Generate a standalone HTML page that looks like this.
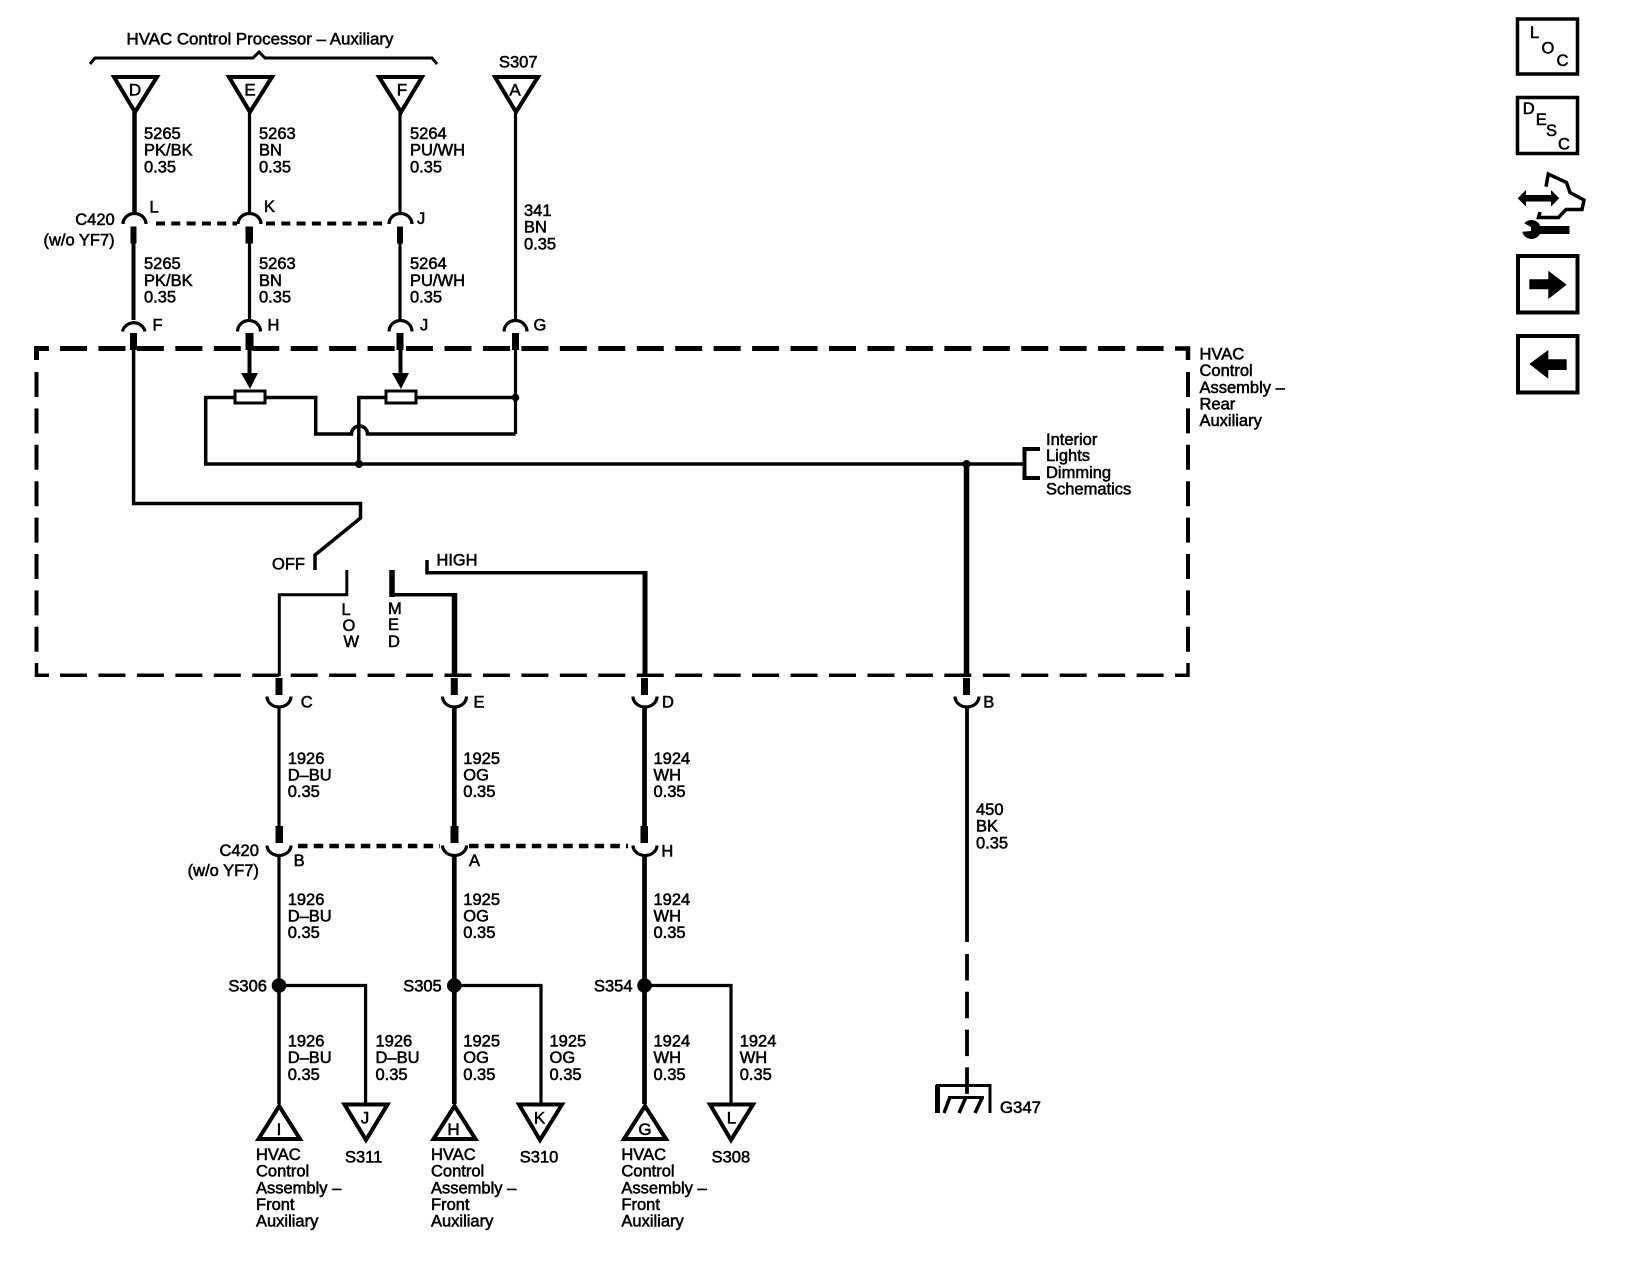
<!DOCTYPE html>
<html><head><meta charset="utf-8"><title>HVAC wiring schematic</title>
<style>
html,body{margin:0;padding:0;background:#fff;width:1632px;height:1262px;overflow:hidden}
svg{display:block}
text{font-family:"Liberation Sans",sans-serif;font-size:16.5px;fill:#000;stroke:#000;stroke-width:.55px}
.w{fill:none;stroke:#000;stroke-linejoin:miter}
.t{fill:#fff;stroke:#000;stroke-width:4}
.m{text-anchor:middle;font-size:17px}
.e{text-anchor:end}
</style></head><body>
<svg width="1632" height="1262" viewBox="0 0 1632 1262" xmlns="http://www.w3.org/2000/svg">
<rect width="1632" height="1262" fill="#fff"/>

<!-- Top title and brace -->
<text x="126.5" y="44.5" textLength="267" lengthAdjust="spacingAndGlyphs">HVAC Control Processor – Auxiliary</text>
<path class="w" stroke-width="3" d="M90 64L95 58H253L259 52L265 58H432L437 64"/>
<text x="499" y="67.5">S307</text>

<!-- Top triangles -->
<polygon class="t" points="114,77 157,77 135,112"/>
<polygon class="t" points="229,77 272,77 250,112"/>
<polygon class="t" points="379,77 422,77 401,112"/>
<polygon class="t" points="495,77 538,77 516,112"/>
<text class="m" x="135" y="95.5">D</text>
<text class="m" x="250" y="95.5">E</text>
<text class="m" x="402" y="95.5">F</text>
<text class="m" x="515" y="95.5">A</text>

<!-- Upper wires -->
<path class="w" stroke-width="4.5" d="M134.5 112V214"/>
<path class="w" stroke-width="3.2" d="M249.5 112V214M400 112V214M515.5 112V319"/>

<!-- C420 upper connector -->
<path class="w" stroke-width="3.2" d="M123 224A11.5 10.5 0 0 1 146 224M238 224A11.5 10.5 0 0 1 261 224M389 224A11.5 10.5 0 0 1 412 224"/>
<path class="w" stroke-width="4" stroke-dasharray="9 6.3" d="M156 223.5H237M266 223.5H386"/>
<rect x="130.5" y="226.5" width="6" height="17"/>
<rect x="245.5" y="226.5" width="7.5" height="17"/>
<rect x="397" y="226.5" width="6" height="17"/>
<path class="w" stroke-width="4" d="M133.5 243V320"/>
<path class="w" stroke-width="3.2" d="M249.5 243V320M400 243V320"/>

<!-- Lower arc of upper pair -->
<path class="w" stroke-width="3.2" d="M122.5 331.5A11.5 11 0 0 1 145 331.5M237.5 331.5A11.5 11 0 0 1 260.5 331.5M389 331.5A11.5 11 0 0 1 412 331.5M504 331.5A11.5 11 0 0 1 527 331.5"/>
<rect x="130" y="333" width="7" height="17"/>
<rect x="245.5" y="333" width="8" height="17"/>
<rect x="396.5" y="333" width="7" height="17"/>
<rect x="512" y="333" width="7" height="17"/>

<!-- Dashed housing -->
<path class="w" stroke-width="5" d="M36.5 360V348.5H49"/>
<path class="w" stroke-width="5" stroke-dasharray="27 11.45" d="M60 348.5H1175"/>
<path class="w" stroke-width="4.5" d="M1175 348.5H1188V360"/>
<path class="w" stroke-width="4" stroke-dasharray="25 11.4" d="M36.5 372V663M1188 372V663"/>
<path class="w" stroke-width="3.5" d="M36.5 663V675.3H49M1175 675.3H1188V663"/>
<path class="w" stroke-width="3.5" stroke-dasharray="27 11.45" d="M60 675.3H1175"/>

<!-- Switch and input wire -->
<path class="w" stroke-width="3.5" d="M133.6 350V503.5H360.5V518L315 555V570"/>
<!-- Resistor inputs -->
<path class="w" stroke-width="4" d="M249.5 350V376M400.5 350V376"/>
<polygon points="241,373 258,373 250,389"/>
<polygon points="392,373 409,373 401,389"/>
<path class="w" stroke-width="3.2" d="M515.5 350V434"/>
<!-- Resistor circuit -->
<path class="w" stroke-width="3.5" d="M234 397.5H205.7V464H1023"/>
<path class="w" stroke-width="3.5" d="M265 397.5H315.7V434H351.5A8 8 0 0 1 367.5 434H515.5"/>
<path class="w" stroke-width="3.5" d="M385 397.5H358.8V464M417 397.5H515.5"/>
<rect x="235" y="391" width="30" height="12" fill="#fff" stroke="#000" stroke-width="3"/>
<rect x="386" y="391" width="30" height="12" fill="#fff" stroke="#000" stroke-width="3"/>
<circle cx="515.5" cy="397.5" r="3.8"/>
<circle cx="359" cy="464" r="4"/>
<circle cx="966.5" cy="464" r="4"/>
<path class="w" stroke-width="5.5" d="M966.5 464V676"/>
<path class="w" stroke-width="4" d="M1040 449H1024.5V478H1040"/>

<!-- Switch contacts -->
<path class="w" stroke-width="3" d="M346.8 570V594.7H279.3V676"/>
<path class="w" stroke-width="3.5" d="M392.5 594.7H454.5"/>
<path class="w" stroke-width="5.5" d="M392 570V597M454.5 593V676"/>
<path class="w" stroke-width="3.5" d="M427 560V572.7H645"/>
<path class="w" stroke-width="5" d="M645 571V676"/>

<text x="272" y="569.5" textLength="33" lengthAdjust="spacingAndGlyphs">OFF</text>
<text x="436.5" y="565.5" textLength="41" lengthAdjust="spacingAndGlyphs">HIGH</text>
<text x="341.5" y="615">L</text><text x="342.5" y="631">O</text><text x="343.5" y="647">W</text>
<text x="388" y="614">M</text><text x="388" y="630">E</text><text x="388" y="647">D</text>

<!-- Lower connectors -->
<rect x="275.5" y="678" width="7" height="17"/>
<rect x="450.8" y="678" width="7" height="17"/>
<rect x="641" y="678" width="7" height="17"/>
<rect x="963" y="678" width="7" height="17"/>
<path class="w" stroke-width="3.2" d="M267 696.5A12 10.5 0 0 0 291 696.5M442.5 696.5A12 10.5 0 0 0 466.5 696.5M633 696.5A12 10.5 0 0 0 657 696.5M955 696.5A12 10.5 0 0 0 979 696.5"/>
<path class="w" stroke-width="3.2" d="M279 707V826"/>
<path class="w" stroke-width="4.7" d="M454.3 707V826M644.5 707V826"/>
<path class="w" stroke-width="3.8" d="M967 708V942"/>
<path class="w" stroke-width="3.8" stroke-dasharray="26.5 11.3" d="M967 954V1097"/>

<!-- Ground -->
<path class="w" stroke-width="3" d="M937.5 1113V1085.5H990V1113"/>
<path class="w" stroke-width="5" d="M937.5 1085V1113"/>
<path class="w" stroke-width="3" d="M948 1097.5H984"/>
<path class="w" stroke-width="3.5" d="M950 1097L944 1113M966 1097L959 1113M982.5 1097L975 1113"/>
<text x="1000" y="1113" textLength="41" lengthAdjust="spacingAndGlyphs">G347</text>

<!-- C420 lower connector -->
<rect x="275.5" y="826" width="7.5" height="17"/>
<rect x="450.5" y="826" width="8" height="17"/>
<rect x="640.5" y="826" width="7.5" height="17"/>
<path class="w" stroke-width="3.2" d="M267 845.5A12 10 0 0 0 291 845.5M442.5 845.5A12 10 0 0 0 466.5 845.5M633 845.5A12 10 0 0 0 657 845.5"/>
<path class="w" stroke-width="4.5" stroke-dasharray="9.5 6.2" d="M298 846H440M469 846H628"/>
<path class="w" stroke-width="3.2" d="M279 855V985"/>
<path class="w" stroke-width="4.7" d="M454.3 855V985M644.5 855V985"/>

<!-- Splices -->
<circle cx="279" cy="985.5" r="7.3"/><circle cx="454.3" cy="985.5" r="7.3"/><circle cx="644.5" cy="985.5" r="7.3"/>
<path class="w" stroke-width="3.2" d="M279 985.5H365.6V1104"/>
<path class="w" stroke-width="3.2" d="M454 985.5H541V1104"/>
<path class="w" stroke-width="3.2" d="M644 985.5H731V1104"/>
<path class="w" stroke-width="3.5" d="M279 985V1104"/>
<path class="w" stroke-width="4.7" d="M454.3 985V1104M644.5 985V1104"/>

<!-- Lower triangles -->
<polygon class="t" points="279.2,1106 258.5,1139 300,1139"/>
<polygon class="t" points="454.5,1106 433.5,1139 475.5,1139"/>
<polygon class="t" points="645,1106 624,1139 666,1139"/>
<polygon class="t" points="344.5,1104.5 387.5,1104.5 366,1140"/>
<polygon class="t" points="519,1104.5 562,1104.5 540,1140"/>
<polygon class="t" points="710,1104.5 753,1104.5 731,1140"/>
<text class="m" x="279" y="1135">I</text>
<text class="m" x="453.5" y="1135">H</text>
<text class="m" x="645" y="1135">G</text>
<text class="m" x="365" y="1123.5">J</text>
<text class="m" x="539.5" y="1123.5">K</text>
<text class="m" x="731.5" y="1123.5">L</text>

<!-- Connector letters upper -->
<text x="149.5" y="212.5">L</text><text x="264" y="212">K</text><text x="417" y="224">J</text>
<text class="e" x="114.7" y="225.2">C420</text><text class="e" x="114.7" y="245.5">(w/o YF7)</text>
<text x="152.5" y="330.7">F</text><text x="267.5" y="330.7">H</text><text x="420" y="330.7">J</text><text x="533.5" y="330.7">G</text>

<!-- Wire labels upper -->
<text x="144" y="139">5265</text><text x="144" y="155.5">PK/BK</text><text x="144" y="172.3">0.35</text>
<text x="259" y="139">5263</text><text x="259" y="155.5">BN</text><text x="259" y="172.3">0.35</text>
<text x="410" y="139">5264</text><text x="410" y="155.5">PU/WH</text><text x="410" y="172.3">0.35</text>
<text x="524" y="216.2">341</text><text x="524" y="232.7">BN</text><text x="524" y="249.5">0.35</text>
<text x="144" y="269">5265</text><text x="144" y="286">PK/BK</text><text x="144" y="302.5">0.35</text>
<text x="259" y="269">5263</text><text x="259" y="286">BN</text><text x="259" y="302.5">0.35</text>
<text x="410" y="269">5264</text><text x="410" y="286">PU/WH</text><text x="410" y="302.5">0.35</text>

<!-- Housing labels -->
<text x="1199.5" y="359.3">HVAC</text><text x="1199.5" y="376">Control</text><text x="1199.5" y="393">Assembly –</text><text x="1199.5" y="409.5">Rear</text><text x="1199.5" y="426">Auxiliary</text>
<text x="1046" y="445">Interior</text><text x="1046" y="461">Lights</text><text x="1046" y="478">Dimming</text><text x="1046" y="494.5">Schematics</text>

<!-- Connector letters lower -->
<text x="300.7" y="707.5">C</text><text x="473.5" y="707.5">E</text><text x="662" y="707.5">D</text><text x="983.3" y="707.5">B</text>
<text class="e" x="258.9" y="856">C420</text><text class="e" x="258.9" y="876">(w/o YF7)</text>
<text x="293.6" y="866">B</text><text x="469" y="866">A</text><text x="661.4" y="856.5">H</text>

<!-- Wire labels lower -->
<text x="287.7" y="764">1926</text><text x="287.7" y="780.5">D–BU</text><text x="287.7" y="797">0.35</text>
<text x="463.3" y="764">1925</text><text x="463.3" y="780.5">OG</text><text x="463.3" y="797">0.35</text>
<text x="653.5" y="764">1924</text><text x="653.5" y="780.5">WH</text><text x="653.5" y="797">0.35</text>
<text x="976" y="815">450</text><text x="976" y="831.5">BK</text><text x="976" y="848.3">0.35</text>

<text x="287.7" y="905">1926</text><text x="287.7" y="921.5">D–BU</text><text x="287.7" y="938">0.35</text>
<text x="463.3" y="905">1925</text><text x="463.3" y="921.5">OG</text><text x="463.3" y="938">0.35</text>
<text x="653.5" y="905">1924</text><text x="653.5" y="921.5">WH</text><text x="653.5" y="938">0.35</text>

<text x="228.4" y="991.7">S306</text><text x="403.2" y="991.7">S305</text><text x="594" y="991.7">S354</text>

<text x="287.7" y="1046.5">1926</text><text x="287.7" y="1063">D–BU</text><text x="287.7" y="1080">0.35</text>
<text x="375.5" y="1046.5">1926</text><text x="375.5" y="1063">D–BU</text><text x="375.5" y="1080">0.35</text>
<text x="463.3" y="1046.5">1925</text><text x="463.3" y="1063">OG</text><text x="463.3" y="1080">0.35</text>
<text x="549.5" y="1046.5">1925</text><text x="549.5" y="1063">OG</text><text x="549.5" y="1080">0.35</text>
<text x="653.5" y="1046.5">1924</text><text x="653.5" y="1063">WH</text><text x="653.5" y="1080">0.35</text>
<text x="739.7" y="1046.5">1924</text><text x="739.7" y="1063">WH</text><text x="739.7" y="1080">0.35</text>

<text x="345" y="1162.7">S311</text><text x="519.8" y="1162.7">S310</text><text x="711.6" y="1162.7">S308</text>

<text x="256" y="1160">HVAC</text><text x="256" y="1176.7">Control</text><text x="256" y="1193.3">Assembly –</text><text x="256" y="1210">Front</text><text x="256" y="1226.7">Auxiliary</text>
<text x="431" y="1160">HVAC</text><text x="431" y="1176.7">Control</text><text x="431" y="1193.3">Assembly –</text><text x="431" y="1210">Front</text><text x="431" y="1226.7">Auxiliary</text>
<text x="621.4" y="1160">HVAC</text><text x="621.4" y="1176.7">Control</text><text x="621.4" y="1193.3">Assembly –</text><text x="621.4" y="1210">Front</text><text x="621.4" y="1226.7">Auxiliary</text>

<!-- Right side icons -->
<rect x="1517.5" y="19" width="60" height="55" fill="#fff" stroke="#000" stroke-width="3.5"/>
<text x="1530" y="38">L</text><text x="1541.5" y="53.3">O</text><text x="1556.5" y="66">C</text>
<rect x="1517.5" y="97.5" width="60" height="56" fill="#fff" stroke="#000" stroke-width="3.5"/>
<text x="1522.7" y="114">D</text><text x="1535.7" y="125">E</text><text x="1546" y="136">S</text><text x="1558" y="149.3">C</text>

<path class="w" stroke-width="3.5" d="M1546 186.7L1548.3 174L1566.5 182.5L1570 192.5L1584 200L1582 209.5H1566L1558.5 217.5H1538.5L1540 212"/>
<polygon points="1517.7,198.3 1526,190 1526,195 1551,195 1551,190 1559.3,198.3 1551,206.5 1551,201.5 1526,201.5 1526,206.5"/>
<rect x="1538" y="226" width="31.5" height="8"/>
<circle cx="1531.5" cy="229.5" r="9.5"/>
<polygon points="1520,221 1531,227 1531,231 1520,232" fill="#fff"/>

<rect x="1518" y="256" width="59.5" height="56.5" fill="#fff" stroke="#000" stroke-width="4"/>
<polygon points="1529.3,279.3 1548.3,279.3 1548.3,270.7 1566.7,284.7 1548.3,299 1548.3,289.3 1529.3,289.3"/>
<rect x="1518" y="336" width="59.5" height="56.5" fill="#fff" stroke="#000" stroke-width="4"/>
<polygon points="1566.7,359.3 1548.3,359.3 1548.3,350 1529.3,364 1548.3,378.7 1548.3,370 1566.7,370"/>
</svg>
</body></html>
